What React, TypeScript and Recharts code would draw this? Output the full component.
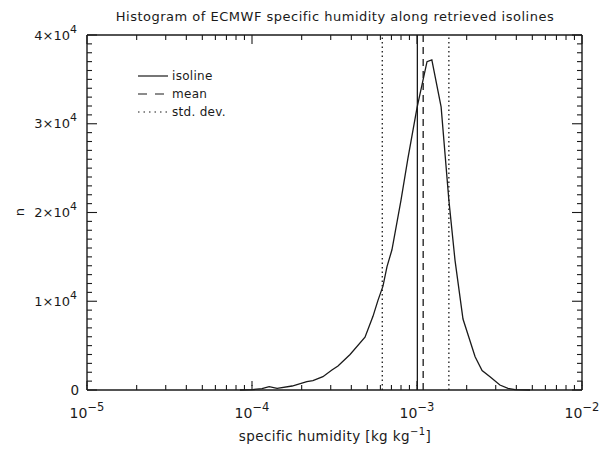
import React from "react";
import { Customized, Line, LineChart, ReferenceLine, XAxis, YAxis } from "recharts";

// specific humidity bin centres [kg/kg] and counts
const humidity = [
  8.45e-5, 1.01e-4, 1.15e-4, 1.27e-4, 1.42e-4, 1.75e-4, 2.15e-4, 2.34e-4, 2.69e-4, 3.05e-4,
  3.32e-4, 3.93e-4, 4.84e-4, 5.41e-4, 5.8e-4, 6.22e-4, 6.58e-4, 7.05e-4, 8.0e-4, 8.81e-4,
  1.0e-3, 1.15e-3, 1.23e-3, 1.4e-3, 1.48e-3, 1.56e-3, 1.7e-3, 1.9e-3, 2.25e-3, 2.48e-3,
  2.77e-3, 3.18e-3, 3.56e-3, 3.93e-3, 4.84e-3,
];
const counts = [
  0, 50, 150, 370, 190, 450, 940, 1050, 1500, 2250,
  2700, 4000, 5950, 8300, 10100, 11700, 13900, 15800, 21400, 26100,
  31800, 37000, 37200, 31900, 26500, 21400, 14600, 8000, 3750, 2200,
  1500, 560, 190, 50, 0,
];

const isolineValue = 1.005e-3;
const meanValue = 1.09e-3;
const stdDevLow = 6.16e-4;
const stdDevHigh = 1.56e-3;

const X_MIN = 1e-5;
const X_MAX = 1e-2;
const Y_MAX = 40000;
const xMajorTicks = [1e-5, 1e-4, 1e-3, 1e-2];
const xMajorLabels = ["−5", "−4", "−3", "−2"];
const yMajorTicks = [0, 10000, 20000, 30000, 40000];
const yMajorLabels = ["0", "1", "2", "3", "4"];

const xTicks: number[] = [];
for (let d = 0; d < 3; d++) {
  for (let m = 1; m < 10; m++) xTicks.push(m * xMajorTicks[d]);
}
xTicks.push(X_MAX);
const yTicks: number[] = [];
for (let v = 0; v <= Y_MAX; v += 1000) yTicks.push(v);

const chartData = humidity.map((q, i) => ({ q, n: counts[i] }));

// plot area is 495 x 355 px; tick lengths expressed in data units
const PLOT_W = 495;
const PLOT_H = 355;
const yLen = (px: number) => (Y_MAX * px) / PLOT_H;
const xFactor = (px: number) => Math.pow(10, (3 * px) / PLOT_W);

const INK = "#1a1a1a";
const FONT = "'DejaVu Sans', sans-serif";

const isMajorX = (v: number) => xMajorTicks.some((m) => Math.abs(m - v) / m < 1e-6);

function BottomTick(props: any) {
  const { x, y, payload } = props;
  const idx = xMajorTicks.findIndex((m) => Math.abs(m - payload.value) / m < 1e-6);
  if (idx < 0) return <g />;
  return (
    <text x={x} y={y + 28} textAnchor="middle" fontFamily={FONT} fontSize={14} fill={INK}>
      10
      <tspan dy={-7} fontSize={11.5}>
        {xMajorLabels[idx]}
      </tspan>
    </text>
  );
}

function LeftTick(props: any) {
  const { x, y, payload } = props;
  const idx = yMajorTicks.indexOf(payload.value);
  if (idx < 0) return <g />;
  if (idx === 0)
    return (
      <text x={x - 8} y={y} dy="0.35em" textAnchor="end" fontFamily={FONT} fontSize={13.5} fill={INK}>
        0
      </text>
    );
  return (
    <text x={x - 10} y={y} dy="0.35em" textAnchor="end" fontFamily={FONT} fontSize={13} fill={INK}>
      {yMajorLabels[idx]}×10
      <tspan dy={-7} fontSize={11}>
        4
      </tspan>
    </text>
  );
}

function Decorations() {
  const lx1 = 138;
  const lx2 = 168;
  const rows = [
    { y: 76, label: "isoline", dash: undefined },
    { y: 94, label: "mean", dash: "9 8" },
    { y: 112, label: "std. dev.", dash: "1.5 4" },
  ];
  return (
    <g fontFamily={FONT} fill={INK}>
      <text x={335} y={21} textAnchor="middle" fontSize={13} letterSpacing={0.5}>
        Histogram of ECMWF specific humidity along retrieved isolines
      </text>
      <text x={335} y={441} textAnchor="middle" fontSize={13.5} letterSpacing={0.4}>
        specific humidity [kg kg
        <tspan dy={-6} fontSize={10}>
          −1
        </tspan>
        <tspan dy={6}>]</tspan>
      </text>
      <text x={19} y={212} textAnchor="middle" fontSize={13} transform="rotate(-90 19 212)" dy="0.35em">
        n
      </text>
      {rows.map((r) => (
        <g key={r.label}>
          <line x1={lx1} x2={lx2} y1={r.y} y2={r.y} stroke={INK} strokeWidth={1.2} strokeDasharray={r.dash} />
          <text x={lx2 + 4} y={r.y} dy="0.35em" fontSize={12} letterSpacing={0.3}>
            {r.label}
          </text>
        </g>
      ))}
    </g>
  );
}

const axisLine = { stroke: INK, strokeWidth: 1.4 };

export default function App() {
  const tickMarks: React.ReactNode[] = [];
  xTicks.forEach((v, i) => {
    const major = isMajorX(v);
    const len = yLen(major ? 9 : 5);
    tickMarks.push(
      <ReferenceLine key={`t${i}`} xAxisId="bottom" yAxisId="left" segment={[{ x: v, y: Y_MAX - len }, { x: v, y: Y_MAX }]} stroke={INK} strokeWidth={1.1} />
    );
    if (major) {
      // bottom axis draws the 5px part itself; extend the major ticks
      tickMarks.push(
        <ReferenceLine key={`b${i}`} xAxisId="bottom" yAxisId="left" segment={[{ x: v, y: yLen(4) }, { x: v, y: len }]} stroke={INK} strokeWidth={1.1} />
      );
    }
  });
  yTicks.forEach((v, i) => {
    const f = xFactor(yMajorTicks.includes(v) ? 10 : 5);
    tickMarks.push(
      <ReferenceLine key={`l${i}`} xAxisId="bottom" yAxisId="left" segment={[{ x: X_MIN, y: v }, { x: X_MIN * f, y: v }]} stroke={INK} strokeWidth={1.1} />,
      <ReferenceLine key={`r${i}`} xAxisId="bottom" yAxisId="left" segment={[{ x: X_MAX / f, y: v }, { x: X_MAX, y: v }]} stroke={INK} strokeWidth={1.1} />
    );
  });

  return (
    <div style={{ position: "absolute", left: 0, top: 0, background: "#fff" }}>
      <LineChart width={611} height={450} data={chartData} margin={{ top: 30, right: 24, bottom: 20, left: 0 }}>
        <XAxis
          xAxisId="bottom"
          dataKey="q"
          type="number"
          scale="log"
          domain={[X_MIN, X_MAX]}
          allowDataOverflow
          ticks={xTicks}
          interval={0}
          tickSize={-5}
          tickMargin={5}
          tickLine={{ stroke: INK, strokeWidth: 1.1 }}
          tick={<BottomTick />}
          height={40}
          axisLine={axisLine}
        />
        <XAxis
          xAxisId="top"
          orientation="top"
          dataKey="q"
          type="number"
          scale="log"
          domain={[X_MIN, X_MAX]}
          allowDataOverflow
          ticks={xMajorTicks}
          tick={false}
          tickLine={false}
          height={5}
          axisLine={axisLine}
        />
        <YAxis
          yAxisId="left"
          type="number"
          domain={[0, Y_MAX]}
          ticks={yTicks}
          interval={0}
          tickSize={0}
          tickMargin={0}
          tickLine={false}
          tick={<LeftTick />}
          width={87}
          axisLine={axisLine}
        />
        <YAxis
          yAxisId="right"
          orientation="right"
          type="number"
          domain={[0, Y_MAX]}
          ticks={yMajorTicks}
          tick={false}
          tickLine={false}
          width={5}
          axisLine={axisLine}
        />
        {tickMarks}
        <ReferenceLine xAxisId="bottom" yAxisId="left" x={isolineValue} stroke={INK} strokeWidth={1.3} />
        <ReferenceLine xAxisId="bottom" yAxisId="left" x={meanValue} stroke={INK} strokeWidth={1.3} strokeDasharray="7 5" />
        <ReferenceLine xAxisId="bottom" yAxisId="left" x={stdDevLow} stroke={INK} strokeWidth={1.3} strokeDasharray="1.5 3" />
        <ReferenceLine xAxisId="bottom" yAxisId="left" x={stdDevHigh} stroke={INK} strokeWidth={1.3} strokeDasharray="1.5 3" />
        <Line
          xAxisId="bottom"
          yAxisId="left"
          dataKey="n"
          type="linear"
          stroke={INK}
          strokeWidth={1.3}
          dot={false}
          isAnimationActive={false}
        />
        <Customized component={<Decorations />} />
      </LineChart>
    </div>
  );
}
